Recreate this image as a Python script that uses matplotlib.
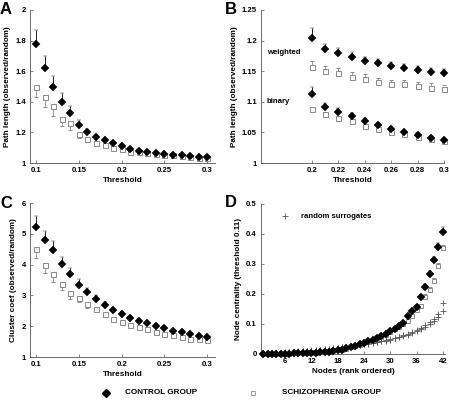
import matplotlib
matplotlib.use('Agg')
from matplotlib import pyplot as plt
import numpy as np

plt.rcParams['font.family'] = ['Liberation Sans', 'DejaVu Sans']
plt.rcParams['font.weight'] = 'bold'

# ---- data ----
thr_ac = [0.10, 0.11, 0.12, 0.13, 0.14, 0.15, 0.16, 0.17, 0.18, 0.19, 0.20,
          0.21, 0.22, 0.23, 0.24, 0.25, 0.26, 0.27, 0.28, 0.29, 0.30]
pathA_ctrl = [1.78, 1.62, 1.50, 1.40, 1.33, 1.25, 1.20, 1.17, 1.15, 1.13, 1.11,
              1.09, 1.08, 1.075, 1.065, 1.06, 1.055, 1.05, 1.045, 1.04, 1.04]
pathA_ctrl_err = [0.09, 0.08, 0.07, 0.06, 0.045, 0.03, 0.02, 0.015, 0.01, 0.01, 0.008,
                  0.006, 0.005, 0.005, 0.004, 0.004, 0.004, 0.003, 0.003, 0.003, 0.003]
pathA_sz = [1.50, 1.43, 1.37, 1.29, 1.26, 1.19, 1.155, 1.13, 1.115, 1.10, 1.09,
            1.075, 1.07, 1.065, 1.06, 1.055, 1.05, 1.045, 1.04, 1.035, 1.03]
pathA_sz_err = [0.07, 0.065, 0.06, 0.05, 0.045, 0.025, 0.015, 0.01, 0.008, 0.006, 0.005,
                0.005, 0.004, 0.004, 0.003, 0.003, 0.003, 0.003, 0.002, 0.002, 0.002]

thr_b = [0.20, 0.21, 0.22, 0.23, 0.24, 0.25, 0.26, 0.27, 0.28, 0.29, 0.30]
w_ctrl = [1.205, 1.186, 1.179, 1.174, 1.167, 1.163, 1.158, 1.155, 1.152, 1.149, 1.147]
w_ctrl_err = [0.015, 0.009, 0.009, 0.008, 0.007, 0.007, 0.007, 0.007, 0.006, 0.006, 0.006]
w_sz = [1.157, 1.151, 1.147, 1.141, 1.137, 1.132, 1.129, 1.129, 1.126, 1.123, 1.121]
w_sz_err = [0.009, 0.008, 0.008, 0.008, 0.008, 0.007, 0.007, 0.007, 0.007, 0.007, 0.007]
b_ctrl = [1.112, 1.091, 1.084, 1.076, 1.069, 1.062, 1.055, 1.050, 1.045, 1.041, 1.038]
b_ctrl_err = [0.013, 0.007, 0.006, 0.005, 0.005, 0.004, 0.004, 0.003, 0.003, 0.003, 0.003]
b_sz = [1.089, 1.080, 1.074, 1.068, 1.060, 1.056, 1.050, 1.047, 1.043, 1.039, 1.036]
b_sz_err = [0.006, 0.005, 0.005, 0.005, 0.004, 0.004, 0.004, 0.003, 0.003, 0.003, 0.003]

clus_ctrl = [5.22, 4.80, 4.48, 4.02, 3.70, 3.35, 3.10, 2.88, 2.70, 2.52, 2.40,
             2.28, 2.18, 2.10, 2.00, 1.93, 1.85, 1.80, 1.74, 1.68, 1.65]
clus_ctrl_err = [0.35, 0.30, 0.28, 0.22, 0.18, 0.17, 0.15, 0.12, 0.10, 0.08, 0.07,
                 0.06, 0.06, 0.05, 0.05, 0.05, 0.04, 0.04, 0.04, 0.04, 0.03]
clus_sz = [4.50, 4.00, 3.70, 3.38, 3.08, 2.92, 2.72, 2.56, 2.38, 2.25, 2.15,
           2.05, 1.97, 1.90, 1.82, 1.76, 1.70, 1.65, 1.60, 1.57, 1.55]
clus_sz_err = [0.30, 0.28, 0.25, 0.21, 0.20, 0.15, 0.12, 0.09, 0.08, 0.07, 0.06,
               0.05, 0.05, 0.04, 0.04, 0.04, 0.03, 0.03, 0.03, 0.03, 0.03]

nodes = list(range(1, 43))
cent_ctrl = [0.000, 0.000, 0.000, 0.001, 0.001, 0.001, 0.001, 0.002, 0.002, 0.003,
             0.003, 0.004, 0.005, 0.006, 0.007, 0.008, 0.010, 0.012, 0.015, 0.019,
             0.023, 0.027, 0.032, 0.037, 0.042, 0.048, 0.054, 0.061, 0.068, 0.076,
             0.085, 0.094, 0.104, 0.126, 0.142, 0.158, 0.190, 0.225, 0.267, 0.312,
             0.357, 0.407]
cent_ctrl_err = [0.001] * 30 + [0.002, 0.003, 0.003, 0.004, 0.005, 0.006, 0.007,
                                0.010, 0.011, 0.012, 0.013, 0.015]
cent_sz = [0.000, 0.000, 0.000, 0.001, 0.001, 0.001, 0.001, 0.002, 0.002, 0.003,
           0.003, 0.004, 0.005, 0.006, 0.007, 0.008, 0.010, 0.012, 0.015, 0.018,
           0.022, 0.026, 0.031, 0.036, 0.041, 0.046, 0.052, 0.058, 0.065, 0.073,
           0.082, 0.090, 0.099, 0.110, 0.128, 0.148, 0.160, 0.190, 0.212, 0.243,
           0.293, 0.352]
cent_sz_err = [0.001] * 30 + [0.002, 0.003, 0.003, 0.004, 0.005, 0.006, 0.007,
                              0.009, 0.010, 0.011, 0.012, 0.012]
rand_1 = [0.002, 0.003, 0.004, 0.004, 0.005, 0.006, 0.007, 0.008, 0.009, 0.010,
          0.011, 0.012, 0.013, 0.014, 0.016, 0.017, 0.019, 0.021, 0.023, 0.025,
          0.027, 0.029, 0.031, 0.033, 0.035, 0.038, 0.041, 0.044, 0.047, 0.050,
          0.054, 0.058, 0.063, 0.068, 0.074, 0.080, 0.087, 0.096, 0.106, 0.118,
          0.135, 0.170]
rand_2 = [0.002, 0.003, 0.003, 0.004, 0.005, 0.005, 0.006, 0.007, 0.008, 0.009,
          0.010, 0.011, 0.012, 0.014, 0.015, 0.016, 0.018, 0.020, 0.022, 0.024,
          0.026, 0.028, 0.030, 0.032, 0.034, 0.036, 0.039, 0.042, 0.045, 0.048,
          0.052, 0.056, 0.060, 0.065, 0.070, 0.076, 0.083, 0.090, 0.099, 0.110,
          0.124, 0.142]

W, H = 449, 404
fig = plt.figure(figsize=(W / 100, H / 100), dpi=100)

def px_axes(l, t, r, b):
    return fig.add_axes([l / W, 1 - b / H, (r - l) / W, (b - t) / H])

axA = px_axes(30, 10, 215, 163)
axB = px_axes(261, 10, 444, 163)
axC = px_axes(30, 203, 215, 357)
axD = px_axes(261, 204, 445, 354)

TF = 5.6
LF = 5.9
gray = '#8a8a8a'

def style(ax):
    for s in ['top', 'right']:
        ax.spines[s].set_visible(False)
    for s in ['left', 'bottom']:
        ax.spines[s].set_linewidth(0.6)
        ax.spines[s].set_color('#555555')
    ax.tick_params(direction='in', length=2, width=0.5, labelsize=TF,
                   pad=3, colors='#555555', labelcolor='black')
    for lab in ax.get_xticklabels() + ax.get_yticklabels():
        lab.set_fontweight('bold')

def plot_pair(ax, x, yc, ec, ys, es, up_sz=False, ms_d=4.2, ms_s=3.6):
    ax.errorbar(x, ys, yerr=[np.zeros(len(es)) if up_sz else es,
                             es if up_sz else np.zeros(len(es))],
                fmt='s', ms=ms_s, mfc='white', mec=gray, mew=0.7,
                ecolor=gray, elinewidth=0.6, capsize=1.5, capthick=0.6, zorder=2)
    ax.errorbar(x, yc, yerr=[np.zeros(len(ec)), ec],
                fmt='D', ms=ms_d, mfc='black', mec='black', mew=0.3,
                ecolor='black', elinewidth=0.6, capsize=1.5, capthick=0.6, zorder=3)

# A
plot_pair(axA, thr_ac, pathA_ctrl, pathA_ctrl_err, pathA_sz, pathA_sz_err)
axA.set_xlim(0.093, 0.309)
axA.set_ylim(1, 2)
axA.set_xticks([0.1, 0.15, 0.2, 0.25, 0.3])
axA.set_xticklabels(['0.1', '0.15', '0.2', '0.25', '0.3'])
axA.set_yticks([1, 1.2, 1.4, 1.6, 1.8, 2])
axA.set_yticklabels(['1', '1.2', '1.4', '1.6', '1.8', '2'])
axA.set_xlabel('Threshold', fontsize=LF, fontweight='bold', labelpad=2)
axA.set_ylabel('Path length (observed/random)', fontsize=LF, fontweight='bold', labelpad=3)
style(axA)

# B
plot_pair(axB, thr_b, w_ctrl, w_ctrl_err, w_sz, w_sz_err, up_sz=True)
plot_pair(axB, thr_b, b_ctrl, b_ctrl_err, b_sz, b_sz_err)
axB.set_xlim(0.1615, 0.3)
axB.set_ylim(1, 1.25)
axB.set_xticks([0.2, 0.22, 0.24, 0.26, 0.28, 0.3])
axB.set_xticklabels(['0.2', '0.22', '0.24', '0.26', '0.28', '0.3'])
axB.set_yticks([1, 1.05, 1.1, 1.15, 1.2, 1.25])
axB.set_yticklabels(['1', '1.05', '1.1', '1.15', '1.2', '1.25'])
axB.set_xlabel('Threshold', fontsize=LF, fontweight='bold', labelpad=2)
axB.set_ylabel('Path length (observed/random)', fontsize=LF, fontweight='bold', labelpad=3)
axB.text(0.166, 1.181, 'weighted', fontsize=TF, fontweight='bold', va='center')
axB.text(0.166, 1.101, 'binary', fontsize=TF, fontweight='bold', va='center')
style(axB)

# C
plot_pair(axC, thr_ac, clus_ctrl, clus_ctrl_err, clus_sz, clus_sz_err)
axC.set_xlim(0.093, 0.309)
axC.set_ylim(1, 6)
axC.set_xticks([0.1, 0.15, 0.2, 0.25, 0.3])
axC.set_xticklabels(['0.1', '0.15', '0.2', '0.25', '0.3'])
axC.set_yticks([1, 2, 3, 4, 5, 6])
axC.set_xlabel('Threshold', fontsize=LF, fontweight='bold', labelpad=2)
axC.set_ylabel('Cluster coef (observed/random)', fontsize=LF, fontweight='bold', labelpad=3)
style(axC)

# D
axD.plot(nodes, rand_1, '+', color='#555555', ms=4.5, mew=0.6, zorder=1)
axD.plot(nodes, rand_2, '+', color='#555555', ms=4.5, mew=0.6, zorder=1)
plot_pair(axD, nodes, cent_ctrl, cent_ctrl_err, cent_sz, cent_sz_err,
          up_sz=True, ms_d=4.0, ms_s=3.4)
axD.set_xlim(0.5, 42.5)
axD.set_ylim(0, 0.5)
axD.set_xticks([6, 12, 18, 24, 30, 36, 42])
axD.set_yticks([0, 0.1, 0.2, 0.3, 0.4, 0.5])
axD.set_yticklabels(['0', '0.1', '0.2', '0.3', '0.4', '0.5'])
axD.set_xlabel('Nodes (rank ordered)', fontsize=LF, fontweight='bold', labelpad=2)
axD.set_ylabel('Node centrality (threshold 0.11)', fontsize=LF, fontweight='bold', labelpad=3)
axD.plot([6], [0.46], '+', color='#555555', ms=4.5, mew=0.6, clip_on=False)
axD.text(9.7, 0.46, 'random surrogates', fontsize=TF, fontweight='bold', va='center')
style(axD)
for ax in (axA, axB, axC, axD):
    for ln in ax.lines:
        ln.set_clip_on(False)

# panel letters
for lab, x, y in [('A', 0, 2), ('B', 225, 2), ('C', 0, 196), ('D', 225, 195)]:
    fig.text(x / W, 1 - y / H, lab, fontsize=12, fontweight='bold', va='top', ha='left')

# bottom legend
fig.lines.append(plt.Line2D([106 / W], [1 - 393 / H], marker='D', ms=3.8, color='black',
                            mfc='black', transform=fig.transFigure, figure=fig))
fig.text(125 / W, 1 - 393 / H, 'CONTROL GROUP', fontsize=TF + 0.3, fontweight='bold', va='center')
fig.lines.append(plt.Line2D([253 / W], [1 - 393 / H], marker='s', ms=3.2, color=gray,
                            mfc='white', mew=0.6, transform=fig.transFigure, figure=fig))
fig.text(282 / W, 1 - 393 / H, 'SCHIZOPHRENIA GROUP', fontsize=TF + 0.3, fontweight='bold', va='center')

fig.savefig('out.png', dpi=100)
